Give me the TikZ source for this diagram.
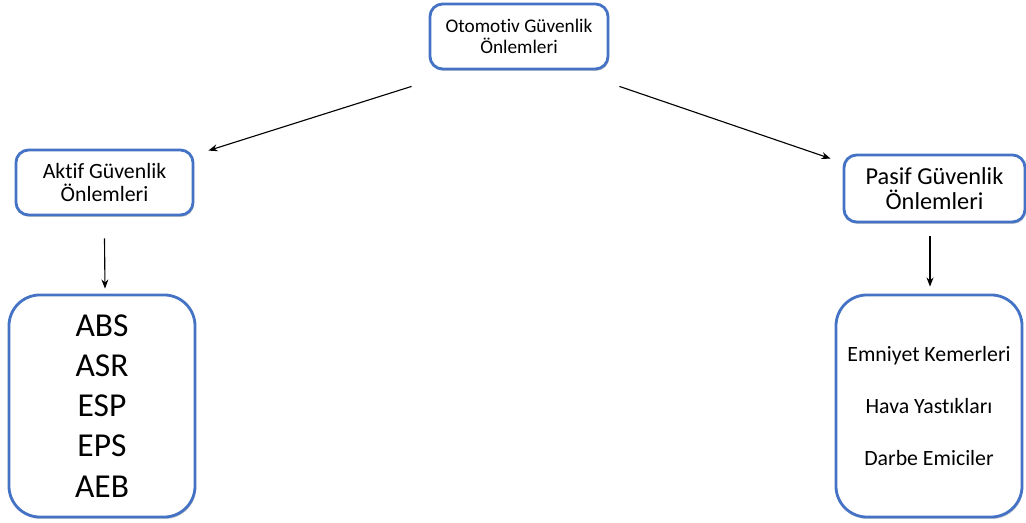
\documentclass[tikz,border=0pt]{standalone}
\usepackage{fontspec}
\setmainfont[Ligatures=CommonOff]{Carlito}
\usepackage{tikz}
\usetikzlibrary{arrows.meta,positioning,shadows}
\definecolor{boxblue}{HTML}{4472C4}
\colorlet{shadowcolor}{black!55}
\tikzset{
    % --- box styles ---
    kutu/.style={draw=boxblue, line width=2pt, fill=white, rounded corners=9pt,
                 align=center, inner sep=0pt,
                 drop shadow={shadow xshift=0.7pt, shadow yshift=-1.4pt, opacity=0.35, fill=shadowcolor}},
    liste/.style={kutu, rounded corners=22pt, minimum width=4.65cm, minimum height=5.55cm},
    ok/.style={-{Stealth[length=6.5pt,width=5pt]}, line width=0.8pt}
}

\begin{document}
\begin{tikzpicture}[x=0.025cm,y=-0.025cm]
    \useasboundingbox (0,0) rectangle (1026,523);

    \node[kutu, minimum width=4.45cm, minimum height=1.625cm,
          font=\fontsize{13.7}{15}\selectfont] (otomotiv) at (519,36.5)
          {Otomotiv Güvenlik\\Önlemleri};

    \node[kutu, minimum width=4.425cm, minimum height=1.625cm,
          font=\fontsize{15.5}{15.8}\selectfont] (aktif) at (104.5,182.5)
          {Aktif Güvenlik\\Önlemleri};
    \node[kutu, minimum width=4.525cm, minimum height=1.675cm,
          font=\fontsize{17.3}{17.8}\selectfont] (pasif) at (934.5,188.5)
          {Pasif Güvenlik\\Önlemleri};

    \node[liste, font=\fontsize{23.8}{28.5}\selectfont] (aktifliste) at (102,406)
          {ABS\\ASR\\ESP\\EPS\\AEB};
    \node[liste, font=\fontsize{15.5}{37}\selectfont] (pasifliste) at (929,406)
          {Emniyet Kemerleri\\Hava Yastıkları\\Darbe Emiciler};

    \draw[ok] ([shift={(-17,16)}]otomotiv.south west) -- ([shift={(14,2)}]aktif.north east);
    \draw[ok] ([shift={(10,16)}]otomotiv.south east) -- ([shift={(-12,5)}]pasif.north west);

    \draw[ok] ([shift={(0,22)}]aktif.south) -- ([shift={(3,-5)}]aktifliste.north);
    \draw[ok] ([shift={(-4.5,13)}]pasif.south) -- ([shift={(1,-7)}]pasifliste.north);
\end{tikzpicture}
\end{document}
